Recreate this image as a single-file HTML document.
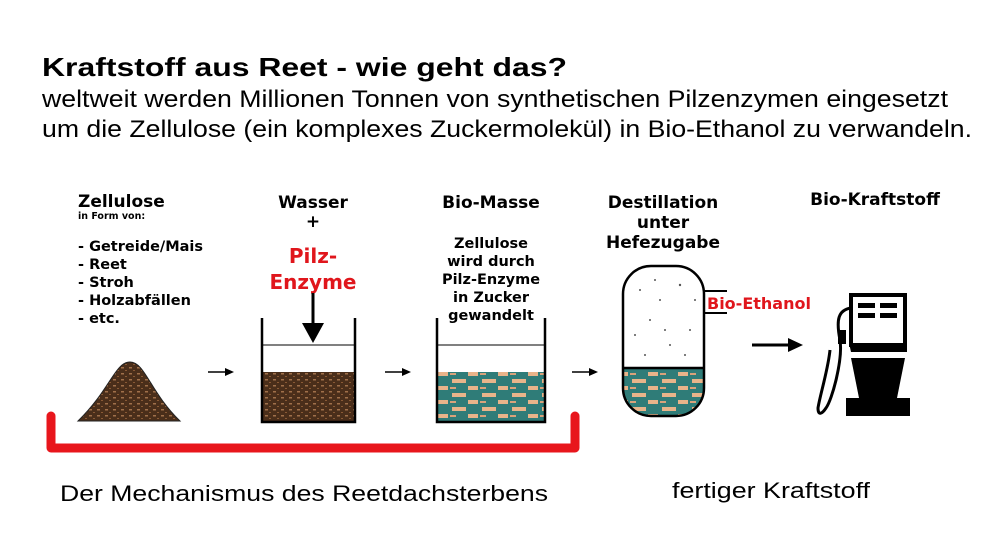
<!DOCTYPE html>
<html><head><meta charset="utf-8"><style>
html,body{margin:0;padding:0;background:#fff;width:1000px;height:550px;overflow:hidden}
svg{display:block}
.b{font-family:"DejaVu Sans","Liberation Sans",sans-serif;font-weight:bold}
</style></head><body>
<svg width="1000" height="550" viewBox="0 0 1000 550" xmlns="http://www.w3.org/2000/svg">
<defs>
<pattern id="brown" width="8" height="6" patternUnits="userSpaceOnUse">
<rect width="8" height="6" fill="#4a2e1a"/>
<rect x="1" y="1" width="3" height="1.5" fill="#a0704a"/>
<rect x="5" y="4" width="2" height="1" fill="#8a5a35"/>
</pattern>
<pattern id="mix" width="30" height="14" patternUnits="userSpaceOnUse">
<rect width="30" height="14" fill="#2f7c78"/>
<rect x="2" y="1" width="14" height="4" fill="#e8b48a"/>
<rect x="18" y="8" width="10" height="4" fill="#e8b48a"/>
<rect x="0" y="9" width="6" height="2" fill="#d9a27a"/>
</pattern>
</defs>
<g font-family="Liberation Sans, sans-serif">
<text x="42" y="76" font-size="26" font-weight="bold" textLength="525" lengthAdjust="spacingAndGlyphs">Kraftstoff aus Reet - wie geht das?</text>
<text x="42" y="107" font-size="24" textLength="906" lengthAdjust="spacingAndGlyphs">weltweit werden Millionen Tonnen von synthetischen Pilzenzymen eingesetzt</text>
<text x="42" y="137" font-size="24" textLength="930" lengthAdjust="spacingAndGlyphs">um die Zellulose (ein komplexes Zuckermolekül) in Bio-Ethanol zu verwandeln.</text>
<text x="60" y="501" font-size="22" textLength="488" lengthAdjust="spacingAndGlyphs">Der Mechanismus des Reetdachsterbens</text>
<text x="672" y="498" font-size="22" textLength="198" lengthAdjust="spacingAndGlyphs">fertiger Kraftstoff</text>
</g>
<g class="b" font-size="14.5">
<text x="78" y="207" font-size="17">Zellulose</text>
<text x="78" y="219" font-size="9.5">in Form von:</text>
<text x="78" y="251">- Getreide/Mais</text>
<text x="78" y="269">- Reet</text>
<text x="78" y="287">- Stroh</text>
<text x="78" y="305">- Holzabfällen</text>
<text x="78" y="323">- etc.</text>
<text x="313" y="208" font-size="17" text-anchor="middle">Wasser</text>
<text x="313" y="227" font-size="17" text-anchor="middle">+</text>
<text x="313" y="263" font-size="20" fill="#e0161c" text-anchor="middle">Pilz-</text>
<text x="313" y="289" font-size="20" fill="#e0161c" text-anchor="middle">Enzyme</text>
<text x="491" y="208" font-size="17" text-anchor="middle">Bio-Masse</text>
<text x="491" y="248" text-anchor="middle">Zellulose</text>
<text x="491" y="266" text-anchor="middle">wird durch</text>
<text x="491" y="284" text-anchor="middle">Pilz-Enzyme</text>
<text x="491" y="302" text-anchor="middle">in Zucker</text>
<text x="491" y="320" text-anchor="middle">gewandelt</text>
<text x="663" y="208" font-size="17" text-anchor="middle">Destillation</text>
<text x="663" y="228" font-size="17" text-anchor="middle">unter</text>
<text x="663" y="248" font-size="17" text-anchor="middle">Hefezugabe</text>
<text x="875" y="205" font-size="17" text-anchor="middle">Bio-Kraftstoff</text>
<text x="707" y="309" font-size="16" fill="#e0161c">Bio-Ethanol</text>
</g>
<path d="M78 421 C110 390 115 362 130 362 C145 362 150 392 180 421 Z" fill="url(#brown)" stroke="#222" stroke-width="1"/>
<g stroke="#000" stroke-width="1.5"><line x1="208" y1="372" x2="226" y2="372"/><line x1="385" y1="372" x2="403" y2="372"/><line x1="572" y1="372" x2="590" y2="372"/></g>
<g fill="#000"><path d="M234 372 L225 368 L225 376Z"/><path d="M411 372 L402 368 L402 376Z"/><path d="M598 372 L589 368 L589 376Z"/></g>
<rect x="263" y="372" width="91" height="49" fill="url(#brown)"/>
<path d="M262 318 V422 H355 V318" fill="none" stroke="#000" stroke-width="2.5"/>
<line x1="262" y1="345" x2="355" y2="345" stroke="#000" stroke-width="1"/>
<line x1="313" y1="293" x2="313" y2="325" stroke="#000" stroke-width="3"/>
<path d="M302 323 L324 323 L313 343Z" fill="#000"/>
<rect x="438" y="372" width="106" height="49" fill="url(#mix)"/>
<path d="M437 318 V422 H545 V318" fill="none" stroke="#000" stroke-width="2.5"/>
<line x1="437" y1="345" x2="545" y2="345" stroke="#000" stroke-width="1"/>
<path d="M51 416 V448 H575 V416" fill="none" stroke="#e8161c" stroke-width="9" stroke-linejoin="round" stroke-linecap="round"/>
<clipPath id="vc"><rect x="623" y="266" width="81" height="150" rx="28"/></clipPath>
<rect x="623" y="368" width="81" height="50" fill="url(#mix)" clip-path="url(#vc)"/>
<g fill="#555">
<circle cx="640" cy="290" r="1"/><circle cx="660" cy="300" r="1"/><circle cx="680" cy="285" r="1.2"/><circle cx="650" cy="320" r="1"/><circle cx="690" cy="330" r="1"/><circle cx="670" cy="345" r="1"/><circle cx="645" cy="355" r="1"/><circle cx="695" cy="300" r="1"/><circle cx="665" cy="330" r="1"/><circle cx="635" cy="335" r="1"/><circle cx="685" cy="355" r="1"/><circle cx="655" cy="280" r="1"/>
</g>
<rect x="623" y="266" width="81" height="150" rx="28" fill="none" stroke="#000" stroke-width="2.5"/>
<line x1="623" y1="368" x2="704" y2="368" stroke="#000" stroke-width="2.5"/>
<path d="M704 291 H727 M704 313 H727" stroke="#000" stroke-width="2"/>
<line x1="752" y1="345" x2="790" y2="345" stroke="#000" stroke-width="3"/>
<path d="M803 345 L788 338 L788 352Z" fill="#000"/>
<rect x="851" y="295" width="54" height="50" fill="#fff" stroke="#000" stroke-width="4"/>
<rect x="858" y="303" width="17" height="5" fill="#000"/><rect x="880" y="303" width="17" height="5" fill="#000"/>
<rect x="858" y="313" width="17" height="5" fill="#000"/><rect x="880" y="313" width="17" height="5" fill="#000"/>
<path d="M849 343 H907 V352 H851 Z" fill="#000"/>
<path d="M851 358 H905 L897 398 H859 Z" fill="#000"/>
<rect x="846" y="398" width="64" height="18" fill="#000"/>
<path d="M851 308 C838 310 836 320 840 340 C843 360 832 400 826 408 C822 414 818 416 818 408 C820 395 828 370 830 350" fill="none" stroke="#000" stroke-width="3"/>
<rect x="838" y="330" width="8" height="14" fill="#000"/>
</svg>
</body></html>
